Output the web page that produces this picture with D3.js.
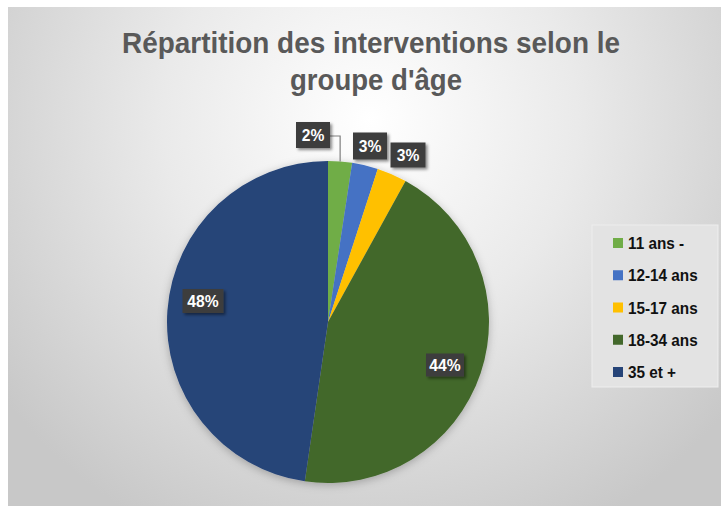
<!DOCTYPE html>
<html>
<head>
<meta charset="utf-8">
<script src="https://cdn.jsdelivr.net/npm/d3@7"></script>
<style>
  body { margin: 0; background: #fff; }
  svg { display: block; }
</style>
</head>
<body>
<svg id="chart"></svg>
<script>
const categories = ['11 ans -', '12-14 ans', '15-17 ans', '18-34 ans', '35 et +'];
const values = [2.4, 2.6, 3.0, 44.3, 47.7];
const labels = ['2%', '3%', '3%', '44%', '48%'];
const colors = ['#70AD47', '#4472C4', '#FFC000', '#43682B', '#264478'];
const titleLines = ["Répartition des interventions selon le", "groupe d'âge"];

const width = 721;
const height = 506;
const cx = 328, cy = 322, radius = 161;
const font = '"Liberation Sans", Arial, sans-serif';

const svg = d3.select('#chart')
  .attr('width', width)
  .attr('height', height);

const defs = svg.append('defs');
const grad = defs.append('radialGradient')
  .attr('id', 'bg')
  .attr('gradientUnits', 'userSpaceOnUse')
  .attr('cx', 370).attr('cy', 120).attr('r', 460);
grad.append('stop').attr('offset', '0%').attr('stop-color', '#ffffff');
grad.append('stop').attr('offset', '45%').attr('stop-color', '#eaeaea');
grad.append('stop').attr('offset', '100%').attr('stop-color', '#c8c8c8');

const shadow = defs.append('filter').attr('id', 'shadow')
  .attr('x', '-30%').attr('y', '-30%').attr('width', '160%').attr('height', '160%');
shadow.append('feDropShadow')
  .attr('dx', 2).attr('dy', 2).attr('stdDeviation', 1.6)
  .attr('flood-color', '#000').attr('flood-opacity', 0.45);

const pieShadow = defs.append('filter').attr('id', 'pieShadow')
  .attr('x', '-10%').attr('y', '-10%').attr('width', '120%').attr('height', '120%');
pieShadow.append('feDropShadow')
  .attr('dx', 0).attr('dy', 2).attr('stdDeviation', 4)
  .attr('flood-color', '#000').attr('flood-opacity', 0.25);

svg.append('rect')
  .attr('x', 8).attr('y', 7)
  .attr('width', width - 8).attr('height', height - 7)
  .attr('fill', 'url(#bg)');

// title
svg.append('g')
  .attr('fill', '#595959')
  .attr('font-family', font)
  .attr('font-weight', 'bold')
  .attr('font-size', 29)
  .attr('text-anchor', 'middle')
  .selectAll('text')
  .data(titleLines)
  .join('text')
  .attr('x', (d, i) => i === 0 ? 371 : 376)
  .attr('y', (d, i) => 53 + i * 37)
  .attr('textLength', (d, i) => i === 0 ? 498 : 172)
  .attr('lengthAdjust', 'spacingAndGlyphs')
  .text(d => d);

// pie
const data = categories.map((c, i) => ({ cat: c, value: values[i], label: labels[i], color: colors[i] }));
const pie = d3.pie().value(d => d.value).sort(null);
const arcs = pie(data);
const arc = d3.arc().innerRadius(0).outerRadius(radius);

const g = svg.append('g').attr('transform', `translate(${cx},${cy})`);
g.append('g')
  .attr('filter', 'url(#pieShadow)')
  .selectAll('path')
  .data(arcs)
  .join('path')
  .attr('d', arc)
  .attr('fill', d => d.data.color);

// data labels (box centres relative to pie centre)
const labelPos = [
  { x: -15, y: -187, w: 34, h: 26 },
  { x: 42, y: -176, w: 34, h: 27 },
  { x: 80, y: -167, w: 35, h: 25 },
  { x: 117, y: 43, w: 38, h: 23 },
  { x: -125, y: -21, w: 41, h: 24 }
];

// leader line for the first slice
const mid0 = (arcs[0].startAngle + arcs[0].endAngle) / 2;
const tip = [Math.sin(mid0) * radius, -Math.cos(mid0) * radius];
g.append('path')
  .attr('d', d3.line()([[labelPos[0].x + labelPos[0].w / 2, labelPos[0].y + 1], [tip[0], labelPos[0].y + 1], tip]))
  .attr('fill', 'none')
  .attr('stroke', '#7f7f7f')
  .attr('stroke-width', 1.2);

const lab = g.append('g')
  .selectAll('g')
  .data(arcs)
  .join('g')
  .attr('transform', (d, i) => `translate(${labelPos[i].x},${labelPos[i].y})`);

lab.append('rect')
  .attr('x', (d, i) => -labelPos[i].w / 2)
  .attr('y', (d, i) => -labelPos[i].h / 2)
  .attr('width', (d, i) => labelPos[i].w)
  .attr('height', (d, i) => labelPos[i].h)
  .attr('fill', '#3d3d3d')
  .attr('filter', 'url(#shadow)');

lab.append('text')
  .attr('text-anchor', 'middle')
  .attr('dy', '0.36em')
  .attr('fill', '#fff')
  .attr('font-family', font)
  .attr('font-weight', 'bold')
  .attr('font-size', 17)
  .attr('transform', 'scale(0.92,1)')
  .text(d => d.data.label);

// legend
const legend = svg.append('g');
legend.append('rect')
  .attr('x', 592).attr('y', 225)
  .attr('width', 126).attr('height', 162)
  .attr('fill', '#e3e3e3')
  .attr('stroke', '#eeeeee')
  .attr('stroke-width', 1);

const ly = d3.scalePoint().domain(categories).range([243, 372]);
const item = legend.selectAll('g.item')
  .data(data)
  .join('g')
  .attr('class', 'item')
  .attr('transform', d => `translate(613,${ly(d.cat)})`);

item.append('rect')
  .attr('x', 0).attr('y', -5)
  .attr('width', 10).attr('height', 10)
  .attr('fill', d => d.color);

item.append('text')
  .attr('transform', 'translate(15,0) scale(0.9,1)')
  .attr('dy', '0.36em')
  .attr('fill', '#111')
  .attr('font-family', font)
  .attr('font-weight', 'bold')
  .attr('font-size', 17)
  .text(d => d.cat);
</script>
</body>
</html>
